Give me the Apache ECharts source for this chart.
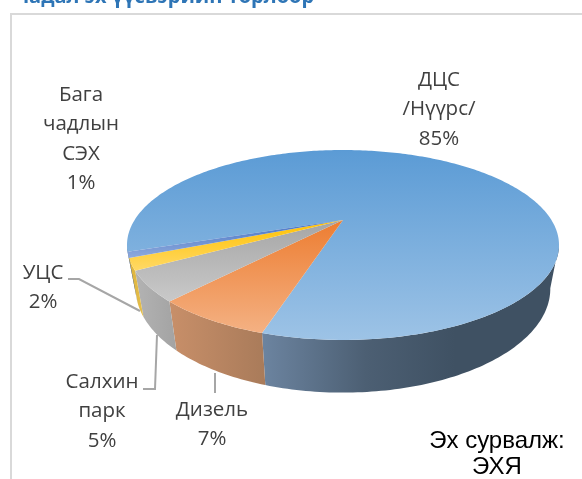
<!DOCTYPE html>
<html>
<head>
<meta charset="utf-8">
<style>html,body{margin:0;padding:0;background:#fff;overflow:hidden}#c{width:582px;height:479px}</style>
<script src="https://cdn.jsdelivr.net/npm/echarts@6/dist/echarts.min.js"></script>
</head>
<body>
<div id="c"></div>
<script>
// Data
var categories = ['ДЦС\n/Нүүрс/', 'Дизель', 'Салхин\nпарк', 'УЦС', 'Бага\nчадлын\nСЭХ'];
var shares = [85, 7, 5, 2, 1];

// Styling and layout
var firstSliceAngle = 250.9;
var topStops = [['#5b9bd5', '#9dc3e6'], ['#ed7d31', '#f4b183'], ['#a5a5a5', '#c9c9c9'], ['#ffc000', '#ffd966'], ['#4472c4', '#8faadc']];
var wallStops = [
  [[0, '#6c84a0'], [0.35, '#4c5f73'], [0.65, '#3f5163'], [1, '#3f5163']],
  [[0, '#c88f69'], [1, '#a97b5a']],
  [[0, '#b3b3b3'], [1, '#a3a3a3']],
  [[0, '#dcb33c'], [1, '#e6bf4c']],
  [[0, '#6f86b8'], [1, '#6f86b8']]
];
var labelCentres = [[439, 80], [212, 410], [102, 382], [43, 273], [81, 95]];
var leaderLines = [null, [[215, 373], [215, 393]], [[157, 335], [155, 389], [143, 389]], [[140, 311], [79, 279], [68, 279]], null];

// Perspective of the pie: centre, half axes and foreshortening for top and base discs
var topDisc = { cx: 343, y0: 220, a: 208.4, b: 88.4, k: 0.263 };
var baseDisc = { cx: 343, y0: 261.4, a: 200, b: 96.7, k: 0.263 };
var total = shares.reduce(function (s, v) { return s + v; }, 0);

function project(disc, deg) {
  var t = deg * Math.PI / 180, X = Math.sin(t), Y = -Math.cos(t), d = 1 - disc.k * Y;
  return [disc.cx + disc.a * X / d, disc.y0 + disc.b * Y / d];
}
function arc(disc, from, to) {
  var pts = [], n = Math.max(2, Math.ceil(Math.abs(to - from)));
  for (var i = 0; i <= n; i++) pts.push(project(disc, from + (to - from) * i / n));
  return pts;
}
function vertical(stops) {
  return new echarts.graphic.LinearGradient(0, 0, 0, 1, [{ offset: 0, color: stops[0] }, { offset: 1, color: stops[1] }]);
}
function horizontal(stops) {
  return new echarts.graphic.LinearGradient(0, 0, 1, 0, stops.map(function (s) { return { offset: s[0], color: s[1] }; }));
}

function renderItem(params, api) {
  var i = params.dataIndex, before = 0;
  for (var j = 0; j < i; j++) before += shares[j];
  var value = api.value(0);
  var start = firstSliceAngle + before / total * 360;
  var end = start + value / total * 360;
  var children = [];

  // visible part of the side wall: angles around the front (180deg / 540deg)
  var ranges = [[105, 255], [465, 615]];
  ranges.forEach(function (r) {
    var f = Math.max(start, r[0]), t = Math.min(end, r[1]);
    if (t <= f) return;
    children.push({
      type: 'polygon', z2: 1,
      shape: { points: arc(topDisc, f, t).concat(arc(baseDisc, t, f)) },
      style: { fill: horizontal(wallStops[i]) }
    });
  });

  children.push({
    type: 'polygon', z2: 2,
    shape: { points: [[topDisc.cx, topDisc.y0]].concat(arc(topDisc, start, end)) },
    style: { fill: vertical(topStops[i]) }
  });

  if (leaderLines[i]) {
    children.push({
      type: 'polyline', z2: 3,
      shape: { points: leaderLines[i] },
      style: { fill: null, stroke: '#a6a6a6', lineWidth: 2 }
    });
  }

  var label = categories[i] + '\n' + value + '%';
  children.push({
    type: 'text', z2: 4,
    x: labelCentres[i][0], y: labelCentres[i][1] - 15,
    style: {
      text: label, fill: '#404040', align: 'center', verticalAlign: 'top',
      font: '20.5px "Open Sans"', lineHeight: 29.5
    }
  });
  return { type: 'group', children: children };
}

var chart = echarts.init(document.getElementById('c'), null, { renderer: 'canvas' });
chart.setOption({
  animation: false,
  backgroundColor: '#ffffff',
  graphic: [
    { type: 'polyline', z: 0, shape: { points: [[11, 479], [11, 14], [582, 14]] }, style: { fill: null, stroke: '#d9d9d9', lineWidth: 2 } },
    { type: 'text', z: 5, x: 16, y: -13, style: { text: 'чадал эх үүсвэрийн төрлөөр', fill: '#2e75b6', font: 'bold 20px "Open Sans"' } },
    { type: 'text', z: 5, x: 497, y: 428, style: { text: 'Эх сурвалж:\nЭХЯ', fill: '#000000', align: 'center', font: '24px "Liberation Sans"', lineHeight: 26 } }
  ],
  series: [{
    type: 'custom',
    coordinateSystem: 'none',
    clip: false,
    silent: true,
    data: shares.map(function (v, i) { return { name: categories[i], value: [v] }; }),
    renderItem: renderItem
  }]
});
</script>
</body>
</html>
